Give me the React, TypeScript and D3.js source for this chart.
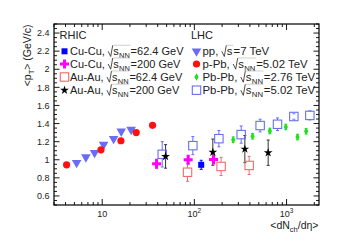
import React, { useEffect, useRef } from 'react';
import * as d3 from 'd3';

// pp, sqrt(s)=7 TeV
const ppX = [5.28, 6.65, 8.27, 10.35, 13.3, 16.1, 20.6];
const ppY = [0.967, 1.029, 1.078, 1.167, 1.233, 1.314, 1.333];
// p-Pb, sqrt(sNN)=5.02 TeV
const pPbX = [4.11, 9.7, 15.96, 23.4, 35.2];
const pPbY = [0.944, 1.11, 1.21, 1.3, 1.38];
// Pb-Pb, sqrt(sNN)=2.76 TeV
const pbpb276X = [264, 428, 659, 982, 1315, 1633];
const pbpb276Y = [1.222, 1.259, 1.318, 1.362, 1.251, 1.314];
const pbpb276E = [0.03, 0.03, 0.03, 0.03, 0.03, 0.03];
// Pb-Pb, sqrt(sNN)=5.02 TeV
const pbpb502X = [44.8, 96.3, 184.5, 322, 517, 798, 1200, 1790];
const pbpb502Y = [1.06, 1.156, 1.233, 1.278, 1.378, 1.392, 1.478, 1.49];
const pbpb502E = [0.14, 0.1, 0.09, 0.095, 0.07, 0.07, 0.03, 0.05];
// Au-Au, sqrt(sNN)=200 GeV
const auau200X = [48.7, 158.6, 353, 632];
const auau200Y = [1.037, 1.084, 1.118, 1.078];
const auau200E = [0.13, 0.145, 0.15, 0.14];
// Cu-Cu, sqrt(sNN)=200 GeV
const cucu200X = [38.9, 85.7, 161.5];
const cucu200Y = [0.956, 1.0, 1.003];
const cucu200E = [0.05, 0.05, 0.05];
// Cu-Cu, sqrt(sNN)=62.4 GeV
const cucu62X = [118.6];
const cucu62Y = [0.944];
const cucu62E = [0.05];
// Au-Au, sqrt(sNN)=62.4 GeV
const auau62X = [84.3, 195, 393];
const auau62Y = [0.862, 0.926, 0.937];
const auau62E = [0.1, 0.1, 0.1];

const yTicks = [0.6, 0.8, 1, 1.2, 1.4, 1.6, 1.8, 2, 2.2, 2.4];
const xTicks = [10, 100, 1000];
const xTickExp = ['', '2', '3'];

const rhicLegend = [
  { sys: 'Cu-Cu', sub: 'NN', energy: '62.4 GeV' },
  { sys: 'Cu-Cu', sub: 'NN', energy: '200 GeV' },
  { sys: 'Au-Au', sub: 'NN', energy: '62.4 GeV' },
  { sys: 'Au-Au', sub: 'NN', energy: '200 GeV' },
];
const lhcLegend = [
  { sys: 'pp', sub: '', energy: '7 TeV' },
  { sys: 'p-Pb', sub: 'NN', energy: '5.02 TeV' },
  { sys: 'Pb-Pb', sub: 'NN', energy: '2.76 TeV' },
  { sys: 'Pb-Pb', sub: 'NN', energy: '5.02 TeV' },
];

const FONT = '"Liberation Sans", Arial, sans-serif';
const INK = '#222';

export default function App() {
  const ref = useRef<SVGSVGElement>(null);
  useEffect(() => {
    draw();
    // eslint-disable-next-line react-hooks/exhaustive-deps
  }, []);

  function draw() {
    const svg = d3.select(ref.current);
    svg.selectAll('*').remove();
    const left = 54;
    const right = 319;
    const top = 24;
    const bottom = 205;
    const x = d3.scaleLog().domain([3, 2250]).range([left, right]);
    const y = d3.scaleLinear().domain([0.5, 2.5]).range([bottom, top]);

    svg.append('rect').attr('width', 355).attr('height', 241).attr('fill', '#fff');

    // ticks
    const axes = svg.append('g').attr('stroke', '#000').attr('stroke-width', 0.9);
    const yMinor = d3.range(0.5, 2.5001, 0.05);
    yMinor.forEach((v) => {
      const major = yTicks.some((t) => Math.abs(t - v) < 1e-6);
      const len = major ? 5.5 : 3;
      axes.append('line').attr('x1', left).attr('x2', left + len).attr('y1', y(v)).attr('y2', y(v));
      axes.append('line').attr('x1', right).attr('x2', right - len).attr('y1', y(v)).attr('y2', y(v));
    });
    const xMinor: number[] = [];
    [1, 10, 100, 1000].forEach((d) => {
      for (let k = 1; k < 10; k++) {
        const v = d * k;
        if (v >= 3 && v <= 2250) xMinor.push(v);
      }
    });
    xMinor.forEach((v) => {
      const major = xTicks.includes(v);
      const len = major ? 6 : 3;
      axes.append('line').attr('x1', x(v)).attr('x2', x(v)).attr('y1', bottom).attr('y2', bottom - len);
      axes.append('line').attr('x1', x(v)).attr('x2', x(v)).attr('y1', top).attr('y2', top + len);
    });
    svg
      .append('rect')
      .attr('x', left)
      .attr('y', top)
      .attr('width', right - left)
      .attr('height', bottom - top)
      .attr('fill', 'none')
      .attr('stroke', '#000')
      .attr('stroke-width', 1.2);

    // tick labels
    const lab = svg.append('g').attr('font-family', FONT).attr('fill', INK).attr('font-size', 9);
    yTicks.forEach((t) => {
      lab.append('text').attr('x', 49.5).attr('y', y(t) + 3.2).attr('text-anchor', 'end').text(d3.format('~g')(t));
    });
    xTicks.forEach((t, i) => {
      const tx = lab.append('text').attr('x', x(t)).attr('y', 216.7).attr('text-anchor', 'middle');
      tx.append('tspan').text('10');
      if (xTickExp[i]) tx.append('tspan').attr('dy', -4).attr('font-size', 6.5).text(xTickExp[i]);
    });

    // axis titles
    const xt = svg
      .append('text')
      .attr('font-family', FONT)
      .attr('font-size', 10.5)
      .attr('fill', INK)
      .attr('x', 318.5)
      .attr('y', 229)
      .attr('text-anchor', 'end');
    xt.append('tspan').text('<dN');
    xt.append('tspan').attr('dy', 2.5).attr('font-size', 7.5).text('ch');
    xt.append('tspan').attr('dy', -2.5).text('/d\u03b7>');

    const yt = svg
      .append('text')
      .attr('font-family', FONT)
      .attr('font-size', 10.5)
      .attr('fill', INK)
      .attr('transform', 'translate(31,24.5) rotate(-90)')
      .attr('text-anchor', 'end');
    yt.append('tspan').text('<p');
    yt.append('tspan').attr('dy', 2.5).attr('font-size', 7.5).text('T');
    yt.append('tspan').attr('dy', -2.5).text('> (GeV/c)');

    // data
    const plot = svg.append('g');
    function errBars(xs: number[], ys: number[], es: number[], color: string, gap: number) {
      xs.forEach((xv, i) => {
        const px = x(xv);
        const py = y(ys[i]);
        const hi = y(ys[i] + es[i]);
        const lo = y(ys[i] - es[i]);
        const g = plot.append('g').attr('stroke', color).attr('stroke-width', 1);
        if (hi < py - gap) g.append('line').attr('x1', px).attr('x2', px).attr('y1', hi).attr('y2', py - gap);
        if (lo > py + gap) g.append('line').attr('x1', px).attr('x2', px).attr('y1', py + gap).attr('y2', lo);
        g.append('line').attr('x1', px - 1.5).attr('x2', px + 1.5).attr('y1', hi).attr('y2', hi);
        g.append('line').attr('x1', px - 1.5).attr('x2', px + 1.5).attr('y1', lo).attr('y2', lo);
      });
    }
    type Mk = 'tri' | 'circle' | 'osq' | 'sq' | 'cross' | 'star' | 'diamond';
    function marker(g: any, px: number, py: number, kind: Mk, color: string) {
      if (kind === 'circle') {
        g.append('circle').attr('cx', px).attr('cy', py).attr('r', 3.6).attr('fill', color);
      } else if (kind === 'osq') {
        g.append('rect')
          .attr('x', px - 4.2)
          .attr('y', py - 4.2)
          .attr('width', 8.4)
          .attr('height', 8.4)
          .attr('fill', 'none')
          .attr('stroke', color)
          .attr('stroke-width', 1.1);
      } else if (kind === 'sq') {
        g.append('rect').attr('x', px - 3).attr('y', py - 3).attr('width', 6).attr('height', 6).attr('fill', color);
      } else {
        const sym =
          kind === 'tri'
            ? d3.symbol(d3.symbolTriangle, 40)
            : kind === 'cross'
              ? d3.symbol(d3.symbolCross, 45)
              : kind === 'star'
                ? d3.symbol(d3.symbolStar, 24)
                : d3.symbol(d3.symbolDiamond, 16);
        g.append('path')
          .attr('d', sym())
          .attr('fill', color)
          .attr('transform', `translate(${px},${py})${kind === 'tri' ? ' rotate(180)' : ''}`);
      }
    }
    function series(xs: number[], ys: number[], kind: Mk, color: string) {
      xs.forEach((xv, i) => marker(plot, x(xv), y(ys[i]), kind, color));
    }

    const cPP = '#6a6cf5';
    const cPbPb5 = '#6670f0';
    const cRed = '#ff1010';
    const cGreen = '#1fe01f';
    const cMag = '#ff00ff';
    const cBlue = '#0000ff';
    const cPink = '#f46a6a';

    errBars(pbpb502X, pbpb502Y, pbpb502E, cPbPb5, 4.2);
    errBars(auau62X, auau62Y, auau62E, cPink, 4.2);
    errBars(auau200X, auau200Y, auau200E, '#333', 0);
    errBars(cucu200X, cucu200Y, cucu200E, cMag, 0);
    errBars(cucu62X, cucu62Y, cucu62E, cBlue, 0);
    errBars(pbpb276X, pbpb276Y, pbpb276E, cGreen, 0);

    series(ppX, ppY, 'tri', cPP);
    series(pPbX, pPbY, 'circle', cRed);
    series(pbpb276X, pbpb276Y, 'diamond', cGreen);
    series(pbpb502X, pbpb502Y, 'osq', cPbPb5);
    series(auau62X, auau62Y, 'osq', cPink);
    series(cucu200X, cucu200Y, 'cross', cMag);
    series(cucu62X, cucu62Y, 'sq', cBlue);
    series(auau200X, auau200Y, 'star', '#000');

    // legend
    const leg = svg.append('g').attr('font-family', FONT).attr('fill', INK);
    leg.append('text').attr('x', 59.5).attr('y', 39).attr('font-size', 11).text('RHIC');
    leg.append('text').attr('x', 191).attr('y', 39).attr('font-size', 11).text('LHC');

    function legendRow(x0: number, base: number, fs: number, row: { sys: string; sub: string; energy: string }) {
      let cx = x0;
      const t1 = leg
        .append('text')
        .attr('x', cx)
        .attr('y', base)
        .attr('font-size', fs)
        .style('white-space', 'pre')
        .text(row.sys + ', ');
      cx += (t1.node() as SVGTextElement).getComputedTextLength();
      const rs = cx;
      cx += 5.3;
      const ts = leg.append('text').attr('x', cx).attr('y', base).attr('font-size', fs).text('s');
      cx += (ts.node() as SVGTextElement).getComputedTextLength() + 0.3;
      if (row.sub) {
        const tsub = leg
          .append('text')
          .attr('x', cx)
          .attr('y', base + 2.6)
          .attr('font-size', fs * 0.68)
          .text(row.sub);
        cx += (tsub.node() as SVGTextElement).getComputedTextLength();
      }
      const re = cx + 0.6;
      leg.append('path')
        .attr('d', `M${rs + 0.3},${base - 4} L${rs + 2.8},${base + 1.2} L${rs + 4.8},${base - 10}`)
        .attr('fill', 'none')
        .attr('stroke', INK)
        .attr('stroke-width', 0.8);
      leg.append('line')
        .attr('x1', rs + 4.8)
        .attr('x2', re)
        .attr('y1', base - 10)
        .attr('y2', base - 10)
        .attr('stroke', '#bbb')
        .attr('stroke-width', 0.7);
      leg.append('text').attr('x', cx + 0.8).attr('y', base).attr('font-size', fs).text('=' + row.energy);
    }
    const bases = [55.3, 68, 81, 94.2];
    const rhicKinds: [Mk, string][] = [
      ['sq', cBlue],
      ['cross', cMag],
      ['osq', cPink],
      ['star', '#000'],
    ];
    const lhcKinds: [Mk, string][] = [
      ['tri', cPP],
      ['circle', cRed],
      ['diamond', cGreen],
      ['osq', cPbPb5],
    ];
    rhicLegend.forEach((r, i) => {
      marker(leg, 64.5, bases[i] - 4, rhicKinds[i][0], rhicKinds[i][1]);
      legendRow(70, bases[i], 11, r);
    });
    lhcLegend.forEach((r, i) => {
      marker(leg, 196.5, bases[i] - 4, lhcKinds[i][0], lhcKinds[i][1]);
      legendRow(202.5, bases[i], 11.4, r);
    });
  }

  return (
    <svg
      ref={ref}
      width={355}
      height={241}
      style={{ position: 'absolute', left: 0, top: 0, display: 'block' }}
    />
  );
}
